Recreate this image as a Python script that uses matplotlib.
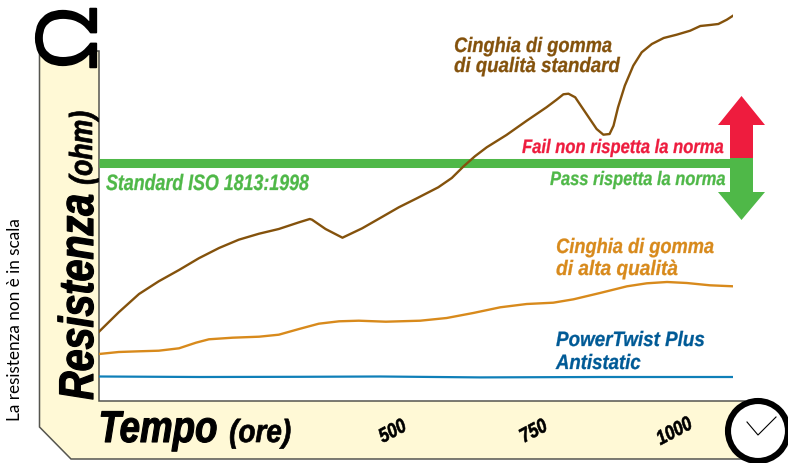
import matplotlib
matplotlib.use("Agg")
import matplotlib.pyplot as plt
from matplotlib.patches import Polygon, Circle
from matplotlib.patheffects import AbstractPathEffect
from matplotlib.text import Text
from matplotlib.transforms import Affine2D, Bbox, ScaledTranslation

# Values; resistance is not to scale (arbitrary units)
standard_hours = [0,35,71,106,142,177,213,248,284,319,355,374,378,402,432,467,503,532,564,602,626,647,667,688,723,759,794,812,824,833,845,859,871,883,895,906,913,921,933,948,963,981,1002,1025,1049,1067,1084,1099,1114,1125]
standard_res = [69.3,88.7,107,119.7,131,142.7,153,161.3,167.3,172,178.7,182,181.3,172,163.3,172.7,184.3,193.7,202.7,213.7,223,234.7,244.7,253.7,266,280.3,293.7,301.3,306.7,307.3,303.7,292,282,272,266.3,267,275.3,293.7,315.3,335.3,348.7,357,363,366.3,370.3,375,376,377,381.3,385.3]
high_hours = [0,35,71,106,142,172,195,237,284,319,355,390,426,461,509,570,617,664,712,759,806,842,889,937,972,1008,1043,1084,1125]
high_res = [47,49,49.7,50.3,52.7,58.3,61.7,63.3,64.3,66.3,72,77.3,79.7,80.3,79.3,80.3,83,88,93.7,97,98.3,101.7,108,114.7,117.7,119,118,115.7,114.7]
power_hours = [0,179,357,499,676,889,1125]
power_res = [24.5,24,24.2,24.5,23.6,24,24]
iso_limit = [238.5, 238.5]
iso_hours = [0, 1125]
tick_hours = [500, 750, 1000]
tick_labels = ['500', '750', '1000']

W, H = 788, 464
BOLD = ['Liberation Sans', 'DejaVu Sans']
CREAM, EDGE = '#FFF9D6', '#55554F'
BROWN, ORANGE, BLUE = '#84520C', '#D88A1C', '#0F7FB8'
DBLUE, GREEN, RED = '#005A96', '#4FB848', '#EE1C3E'


class Squeeze(AbstractPathEffect):
    """Condense a text's glyphs horizontally and embolden them with a stroke."""
    def __init__(self, sx=1.0, stroke=0.0, anchor='left'):
        super().__init__()
        self.sx, self.stroke, self.anchor = sx, stroke, anchor

    def draw_path(self, renderer, gc, tpath, affine, rgbFace=None):
        ext = tpath.get_extents()
        a = ext.x0 if self.anchor == 'left' else (ext.x0 + ext.x1) / 2
        squeezed = Affine2D().translate(-a, 0).scale(self.sx, 1).translate(a, 0) + affine
        gc0 = renderer.new_gc()
        gc0.copy_properties(gc)
        gc0.set_foreground(rgbFace)
        gc0.set_linewidth(self.stroke)
        gc0.set_joinstyle('round')
        renderer.draw_path(gc0, tpath, squeezed, rgbFace)
        gc0.restore()


class CondensedText(Text):
    """Text whose reported extent is the condensed one actually drawn."""
    squeeze = 1.0

    def get_window_extent(self, renderer=None, dpi=None):
        b = super().get_window_extent(renderer, dpi)
        if self.get_rotation() == 90:
            return Bbox.from_extents(b.x0, b.y0, b.x1, b.y0 + b.height * self.squeeze)
        if self.get_rotation() == 0:
            return Bbox.from_extents(b.x0, b.y0, b.x0 + b.width * self.squeeze, b.y1)
        return b


fig = plt.figure(figsize=(W/100, H/100), dpi=100, facecolor='white')
rend = fig.canvas.get_renderer()

# Decoration layer in pixel coordinates
bg = fig.add_axes([0, 0, 1, 1])
bg.set_xlim(0, W); bg.set_ylim(H, 0); bg.axis('off')
panel = [(39.5, 52), (39.5, 428), (71, 460), (745, 460), (745, 402), (99, 402), (99, 52)]
bg.add_patch(Polygon(panel, closed=True, fc=CREAM, ec=EDGE, lw=1.1, zorder=1))
bg.add_patch(Circle((67, 38), 27, fc='white', ec='none', zorder=2))

# Data axes
ax = fig.add_axes([99/W, 1-402/H, 634/W, 402/H])
ax.patch.set_alpha(0)
ax.set_xlim(0, 1125); ax.set_ylim(0, 402)
for s in ax.spines.values():
    s.set_visible(False)
ax.set_yticks([])
ax.set_xticks(tick_hours)
ax.set_xticklabels(tick_labels, rotation=28, family=BOLD, weight='bold', style='italic',
                   fontsize=14.5, ha='center', va='center', rotation_mode='anchor')
ax.tick_params(axis='x', length=0, pad=22)
for lab in ax.get_xticklabels():
    lab.set_transform(lab.get_transform() + ScaledTranslation(12/100, 0, fig.dpi_scale_trans))
    lab.set_path_effects([Squeeze(0.84, 0.4, 'center')])
ax.plot(iso_hours, iso_limit, color=GREEN, lw=6.5, solid_capstyle='butt', zorder=2)
ax.plot(standard_hours, standard_res, color=BROWN, lw=1.7, zorder=3, solid_joinstyle='round')
ax.plot(high_hours, high_res, color=ORANGE, lw=1.7, zorder=3, solid_joinstyle='round')
ax.plot(power_hours, power_res, color=BLUE, lw=1.6, zorder=3)

# Overlay for arrows, clock and labels
ov = fig.add_axes([0, 0, 1, 1])
ov.patch.set_alpha(0)
ov.set_xlim(0, W); ov.set_ylim(H, 0); ov.axis('off')
ov.add_patch(Polygon([(741.5, 97), (765, 126), (753, 126), (753, 159), (730, 159), (730, 126), (718, 126)], fc=RED, ec='none'))
ov.add_patch(Polygon([(730, 159), (753, 159), (753, 193), (765, 193), (741.5, 221), (718, 193), (730, 193)], fc=GREEN, ec='none'))
ov.add_patch(Circle((758, 432), 30, fc='white', ec='black', lw=4.4))
ov.plot([747, 758, 776], [423, 436, 418], color='black', lw=0.8)

omega = ov.text(75, 39, 'Ω', rotation=90, family=['Open Sans', 'DejaVu Sans'], fontsize=60,
                ha='center', va='center', color='black')
omega.set_path_effects([Squeeze(1.0, 1.3, 'center')])


def t(x, y, s, size, color, width, rotation=0, stroke=0.2):
    """Place a condensed bold-italic label: (x, y) is the baseline start, width its length in px."""
    txt = CondensedText(x, y, s, fontsize=size, color=color, family=BOLD, weight='bold',
                        style='italic', ha='left', va='baseline', rotation_mode='anchor')
    ov.add_artist(txt)
    sx = width / Text.get_window_extent(txt, rend).width
    txt.squeeze = sx
    txt.set_rotation(rotation)
    txt.set_path_effects([Squeeze(sx, stroke)])
    return txt


t(93, 401, 'Resistenza', 35, 'black', 206, rotation=90, stroke=0.9)
t(92, 186, '(ohm)', 23, 'black', 74, rotation=90, stroke=0.5)
t(98, 443, 'Tempo', 32, 'black', 119, stroke=0.8)
t(229, 443, '(ore)', 23, 'black', 62, stroke=0.5)
t(106, 191, 'Standard ISO 1813:1998', 16, GREEN, 203)
t(522, 154, 'Fail non rispetta la norma', 14, RED, 202)
t(550, 186, 'Pass rispetta la norma', 14, GREEN, 176)
t(454, 53, 'Cinghia di gomma', 15, BROWN, 158)
t(454, 73, 'di qualità standard', 15, BROWN, 166)
t(556, 254, 'Cinghia di gomma', 15, ORANGE, 158)
t(556, 276, 'di alta qualità', 15, ORANGE, 122)
t(556, 347, 'PowerTwist Plus', 15, DBLUE, 149)
t(556, 370, 'Antistatic', 15, DBLUE, 85)

ov.text(15, 320, 'La resistenza non è in scala', fontsize=12.3, rotation=90, ha='center', va='center',
        family=['Lato', 'DejaVu Sans'], color='black')

fig.savefig('out.png', dpi=100)
